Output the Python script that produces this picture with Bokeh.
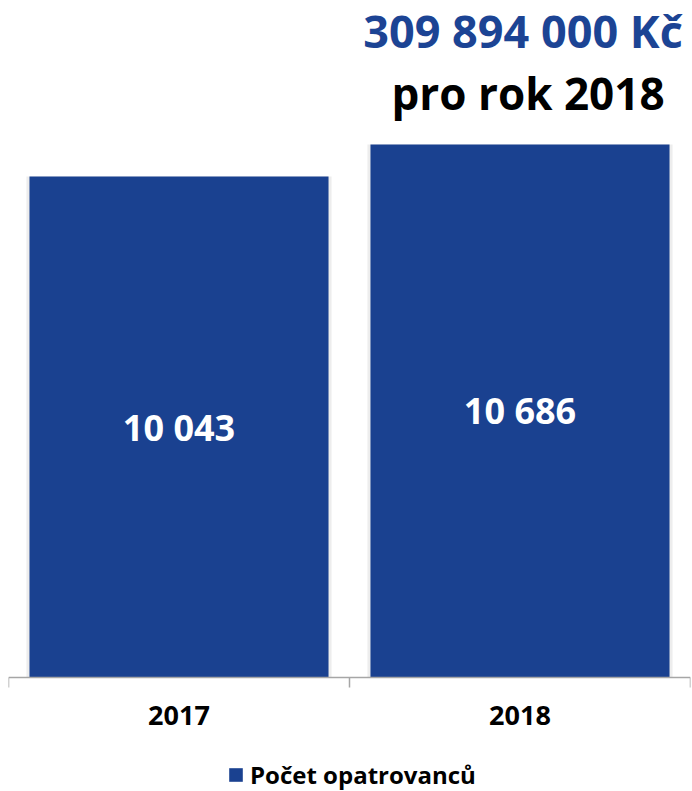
from bokeh.plotting import figure
from bokeh.models import (Range1d, FixedTicker, LinearAxis, ColumnDataSource, LabelSet,
                          Label, Legend, LegendItem)
from bokeh.core.properties import value
from bokeh.embed import file_html
from bokeh.resources import INLINE

# ---- data ----
years = ["2017", "2018"]
counts = [10043, 10686]
series_name = "Počet opatrovanců"
headline_amount = "309 894 000 Kč"
headline_year = "pro rok 2018"

BAR = "#1A4190"
TITLE_BLUE = "#1C4494"
FONT = "Open Sans"

xs = [i + 0.5 for i in range(len(years))]
labels = [f"{v:,}".replace(",", " ") for v in counts]
src = ColumnDataSource(dict(x=xs, top=counts, mid=[v / 2 for v in counts], lab=labels))

p = figure(width=692, height=791, output_backend="svg", toolbar_location=None,
           x_range=Range1d(0, len(years)), y_range=Range1d(-2286, 13573),
           x_axis_location=None, y_axis_location=None,
           min_border=0, min_border_left=8, min_border_right=2,
           min_border_top=0, min_border_bottom=0)
p.outline_line_color = None
p.xgrid.visible = False
p.ygrid.visible = False
p.background_fill_color = "white"
p.border_fill_color = "white"

# soft shadow behind the bars
p.vbar(x="x", top="top", width=0.877 + 0.018, bottom=0, source=src,
       fill_color="black", fill_alpha=0.07, line_color=None)
bars = p.vbar(x="x", top="top", width=0.877, bottom=0, source=src,
              fill_color=BAR, line_color=None)

xaxis = LinearAxis(ticker=FixedTicker(ticks=xs, minor_ticks=list(range(len(years) + 1))),
                   major_label_overrides={x: y for x, y in zip(xs, years)},
                   fixed_location=0)
xaxis.axis_line_color = "#A6A6A6"
xaxis.axis_line_width = 1.5
xaxis.major_tick_line_color = None
xaxis.minor_tick_line_color = "#A6A6A6"
xaxis.minor_tick_line_width = 1.5
xaxis.minor_tick_in = 0
xaxis.minor_tick_out = 10
xaxis.major_tick_out = 10
xaxis.major_label_standoff = 19
xaxis.major_label_text_font = FONT
xaxis.major_label_text_font_style = "bold"
xaxis.major_label_text_font_size = "27px"
xaxis.major_label_text_color = "black"
p.add_layout(xaxis, "below")

p.add_layout(LabelSet(x="x", y="mid", text="lab", source=src, text_align="center",
                      text_baseline="middle", text_color="white",
                      text_font=value(FONT), text_font_style="bold",
                      text_font_size="36px"))

p.add_layout(Label(x=1.5, y=12980, x_offset=3, text=headline_amount, text_align="center",
                   text_baseline="alphabetic", text_color=TITLE_BLUE,
                   text_font=FONT, text_font_style="bold", text_font_size="45px"))
p.add_layout(Label(x=1.5, y=11728, x_offset=8, text=headline_year, text_align="center",
                   text_baseline="alphabetic", text_color="black",
                   text_font=FONT, text_font_style="bold", text_font_size="44px"))

legend = Legend(items=[LegendItem(label=series_name, renderers=[bars])],
                location=(219, 0), orientation="horizontal",
                label_text_font=FONT, label_text_font_style="bold",
                label_text_color="black",
                label_text_font_size="24px", glyph_width=17, glyph_height=17,
                border_line_color=None, background_fill_alpha=0,
                padding=0, margin=0, label_standoff=6)
p.add_layout(legend, "center")

open("out.html", "w").write(file_html(p, INLINE))
